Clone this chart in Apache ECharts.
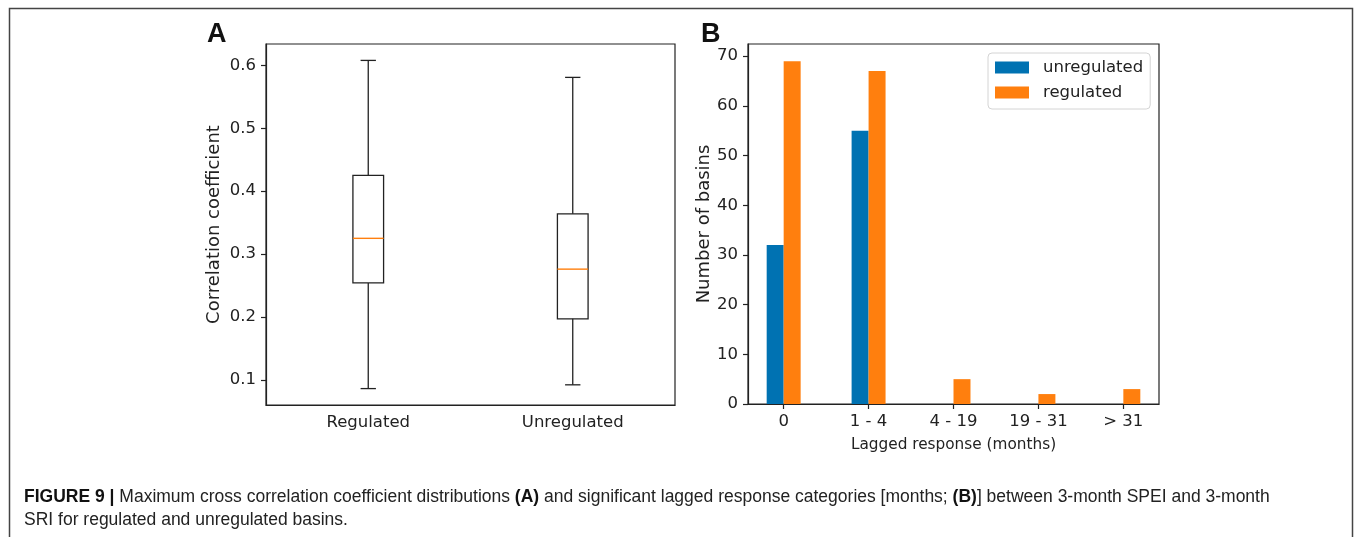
<!doctype html>
<html>
<head>
<meta charset="UTF-8">
<title>Figure 9</title>
<script src="https://cdn.jsdelivr.net/npm/echarts@6/dist/echarts.min.js"></script>
<style>
html,body{margin:0;padding:0;background:#fff;}
#main{width:1357px;height:537px;}
</style>
</head>
<body>
<div id="main"></div>
<script>
// panel A - box stats (Regulated, Unregulated)
var boxCats = ['Regulated', 'Unregulated'];
var boxMin = [0.086, 0.092];
var boxQ1 = [0.254, 0.197];
var boxMed = [0.325, 0.276];
var boxQ3 = [0.425, 0.364];
var boxMax = [0.608, 0.581];
var corrTicks = [0.1, 0.2, 0.3, 0.4, 0.5, 0.6];

// panel B - number of basins per lag class
var lagCats = ['0', '1 - 4', '4 - 19', '19 - 31', '> 31'];
var unregulated = [32, 55, 0, 0, 0];
var regulated = [69, 67, 5, 2, 3];
var lagTicks = [0, 1, 2, 3, 4];
var countTicks = [0, 10, 20, 30, 40, 50, 60, 70];

var ink = '#222';
var blue = '#0072b2';
var orange = '#ff7f0e';
var fam = 'DejaVu Sans';

var boxData = boxCats.map(function (c, i) {
    return [i, boxMin[i], boxQ1[i], boxMed[i], boxQ3[i], boxMax[i]];
});

function renderBox(params, api) {
    var i = api.value(0);
    var bw = api.size([1, 0])[0] * 0.15;
    var pMin = api.coord([i, api.value(1)]);
    var pQ1 = api.coord([i, api.value(2)]);
    var pMed = api.coord([i, api.value(3)]);
    var pQ3 = api.coord([i, api.value(4)]);
    var pMax = api.coord([i, api.value(5)]);
    var cx = pMin[0];
    var ls = {stroke: ink, lineWidth: 1.3, fill: null};
    return {
        type: 'group',
        children: [
            {type: 'line', shape: {x1: cx, y1: pMax[1], x2: cx, y2: pQ3[1]}, style: ls},
            {type: 'line', shape: {x1: cx, y1: pQ1[1], x2: cx, y2: pMin[1]}, style: ls},
            {type: 'line', shape: {x1: cx - bw / 4, y1: pMax[1], x2: cx + bw / 4, y2: pMax[1]}, style: ls},
            {type: 'line', shape: {x1: cx - bw / 4, y1: pMin[1], x2: cx + bw / 4, y2: pMin[1]}, style: ls},
            {type: 'rect', shape: {x: cx - bw / 2, y: pQ3[1], width: bw, height: pQ1[1] - pQ3[1]}, style: ls},
            {type: 'line', shape: {x1: cx - bw / 2, y1: pMed[1], x2: cx + bw / 2, y2: pMed[1]}, style: {stroke: orange, lineWidth: 1.4}}
        ]
    };
}

function barRenderer(offset) {
    return function (params, api) {
        var x = api.value(0) + offset;
        var a = api.coord([x - 0.1, api.value(1)]);
        var b = api.coord([x + 0.1, 0]);
        return {
            type: 'rect',
            shape: {x: a[0], y: a[1], width: b[0] - a[0], height: b[1] - a[1]},
            style: {fill: api.visual('color')}
        };
    };
}

var axisTxt = {fontFamily: fam, fontSize: 16.5, color: ink};

var option = {
    animation: false,
    backgroundColor: '#fff',
    grid: [
        {left: 266, top: 44, width: 409, height: 361, show: true, borderColor: ink, borderWidth: 1.2},
        {left: 748, top: 44, width: 411, height: 360, show: true, borderColor: ink, borderWidth: 1.2}
    ],
    legend: {
        orient: 'vertical',
        left: 988,
        top: 53,
        data: [{name: 'unregulated', icon: 'rect'}, {name: 'regulated', icon: 'rect'}],
        itemWidth: 34,
        itemHeight: 12,
        itemGap: 8,
        padding: [6, 7, 8, 7],
        borderColor: '#d4d4d4',
        borderWidth: 1,
        borderRadius: 4,
        selectedMode: false,
        textStyle: {fontFamily: fam, fontSize: 16.5, color: ink, padding: [0, 0, 0, 9]}
    },
    xAxis: [
        {
            gridIndex: 0,
            type: 'category',
            data: boxCats,
            axisLine: {lineStyle: {color: ink, width: 1.2}},
            axisTick: {alignWithLabel: true, length: 5, lineStyle: {color: ink, width: 1.2}},
            axisLabel: Object.assign({margin: 9}, axisTxt)
        },
        {
            gridIndex: 1,
            type: 'value',
            min: -0.42,
            max: 4.42,
            splitLine: {show: false},
            axisLine: {onZero: false, lineStyle: {color: ink, width: 1.2}},
            axisTick: {customValues: lagTicks, length: 5, lineStyle: {color: ink, width: 1.2}},
            axisLabel: Object.assign({margin: 9, customValues: lagTicks, formatter: function (v) {
                return lagCats[Math.round(v)];
            }}, axisTxt),
            name: 'Lagged response (months)',
            nameLocation: 'middle',
            nameGap: 34,
            nameTextStyle: {fontFamily: fam, fontSize: 15.3, color: ink}
        }
    ],
    yAxis: [
        {
            gridIndex: 0,
            type: 'value',
            min: 0.0599,
            max: 0.6341,
            splitLine: {show: false},
            axisLine: {show: true, onZero: false, lineStyle: {color: ink, width: 1.2}},
            axisTick: {show: true, customValues: corrTicks, length: 5, lineStyle: {color: ink, width: 1.2}},
            axisLabel: Object.assign({margin: 10, customValues: corrTicks, formatter: function (v) {
                return v.toFixed(1);
            }}, axisTxt),
            name: 'Correlation coefficient',
            nameLocation: 'middle',
            nameGap: 43,
            nameTextStyle: {fontFamily: fam, fontSize: 18, color: ink}
        },
        {
            gridIndex: 1,
            type: 'value',
            min: 0,
            max: 72.45,
            splitLine: {show: false},
            axisLine: {show: true, onZero: false, lineStyle: {color: ink, width: 1.2}},
            axisTick: {show: true, customValues: countTicks, length: 5, lineStyle: {color: ink, width: 1.2}},
            axisLabel: Object.assign({margin: 10, customValues: countTicks}, axisTxt),
            name: 'Number of basins',
            nameLocation: 'middle',
            nameGap: 35,
            nameTextStyle: {fontFamily: fam, fontSize: 18, color: ink}
        }
    ],
    series: [
        {
            type: 'custom',
            xAxisIndex: 0,
            yAxisIndex: 0,
            renderItem: renderBox,
            data: boxData,
            silent: true
        },
        {
            name: 'unregulated',
            type: 'custom',
            xAxisIndex: 1,
            yAxisIndex: 1,
            itemStyle: {color: blue},
            renderItem: barRenderer(-0.1),
            data: unregulated.map(function (v, i) { return [i, v]; }),
            silent: true
        },
        {
            name: 'regulated',
            type: 'custom',
            xAxisIndex: 1,
            yAxisIndex: 1,
            itemStyle: {color: orange},
            renderItem: barRenderer(0.1),
            data: regulated.map(function (v, i) { return [i, v]; }),
            silent: true
        }
    ],
    graphic: [
        {
            type: 'polyline',
            shape: {points: [[9.5, 537], [9.5, 8.5], [1352.5, 8.5], [1352.5, 537]]},
            style: {stroke: '#444', lineWidth: 1.5, fill: null}
        },
        {
            type: 'text', left: 207, top: 21,
            style: {text: 'A', font: 'bold 27px "Liberation Sans", Arial, sans-serif', fill: '#111'}
        },
        {
            type: 'text', left: 701, top: 21,
            style: {text: 'B', font: 'bold 27px "Liberation Sans", Arial, sans-serif', fill: '#111'}
        },
        {
            type: 'text', left: 24, top: 486,
            style: {
                text: '{b|FIGURE 9 |} Maximum cross correlation coefficient distributions {b|(A)} and significant lagged response categories [months; {b|(B)}] between 3-month SPEI and 3-month\nSRI for regulated and unregulated basins.',
                fontFamily: 'Liberation Sans',
                fontSize: 17.5,
                lineHeight: 23,
                fill: '#222',
                rich: {
                    b: {fontFamily: 'Liberation Sans', fontSize: 17.5, fontWeight: 'bold', lineHeight: 23, fill: '#111'}
                }
            }
        }
    ]
};

var myChart = echarts.init(document.getElementById('main'));
myChart.setOption(option);
</script>
</body>
</html>
